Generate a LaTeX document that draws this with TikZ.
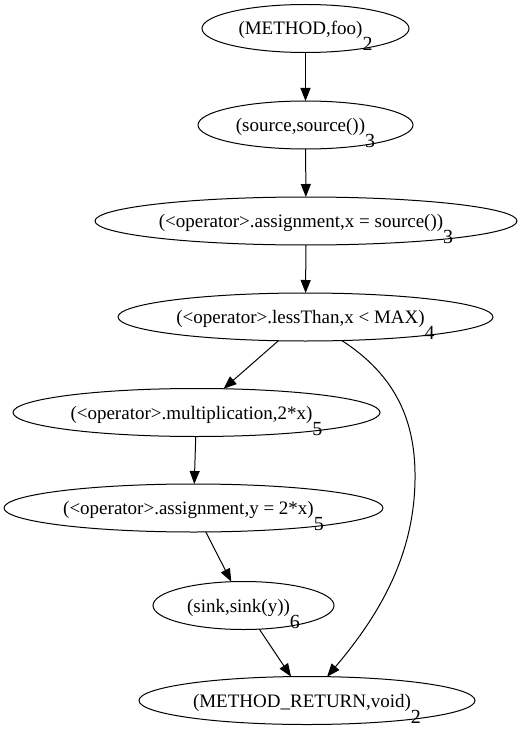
\documentclass[tikz,border=0pt]{standalone}
\usepackage{fontspec}
\setmainfont{Liberation Serif}
\newfontfamily\gvfont{Liberation Serif}
\usetikzlibrary{arrows.meta, shapes.geometric}

\newcommand{\lsub}[1]{\raisebox{-16pt}[0pt][0pt]{\fontsize{20}{22}\selectfont#1}}

\begin{document}
\begin{tikzpicture}[
    x=1pt, y=-1pt,
    >={Triangle[length=13pt,width=10pt]},
    line width=1pt,
    font=\gvfont\fontsize{19}{22}\selectfont,
    vert/.style={
        draw,
        ellipse,
        inner sep=0pt,
        outer sep=0pt,
        text height=14pt,
        text depth=1pt,
        minimum height=48pt
    }
]
\useasboundingbox (0,0) rectangle (529,730);

% =========================================================
% vertices
% =========================================================
\node[vert, minimum width=207pt] (mth) at (305.5, 28.5)  {(METHOD,foo)\lsub{2}};
\node[vert, minimum width=215pt] (src) at (305.5, 125.0) {(source,source())\lsub{3}};
\node[vert, minimum width=422pt] (asx) at (306.0, 221.0) {(<operator>.assignment,x = source())\lsub{3}};
\node[vert, minimum width=375pt] (lt)  at (305.5, 317.0) {(<operator>.lessThan,x < MAX)\lsub{4}};
\node[vert, minimum width=367pt] (mul) at (196.5, 412.5) {(<operator>.multiplication,2*x)\lsub{5}};
\node[vert, minimum width=379pt] (asy) at (193.5, 508.0) {(<operator>.assignment,y = 2*x)\lsub{5}};
\node[vert, minimum width=181pt] (snk) at (243.5, 605.5) {(sink,sink(y))\lsub{6}};
\node[vert, minimum width=336pt] (ret) at (307.0, 700.5) {(METHOD\_RETURN,void)\lsub{2}};

% =========================================================
% edges
% =========================================================
\draw[->] (mth) -- (src);
\draw[->] (src) -- (asx);
\draw[->] (asx) -- (lt);
\draw[->] (lt)  -- (mul);
\draw[->] (mul) -- (asy);
\draw[->] (asy) -- (snk);
\draw[->] (snk) -- (ret);

% long edge on the right
\coordinate (bend) at (415,480);
\draw[->] (lt) .. controls (395,375) and (416,420) .. (bend)
    .. controls (414,560) and (375,620) .. (ret);

\end{tikzpicture}
\end{document}
